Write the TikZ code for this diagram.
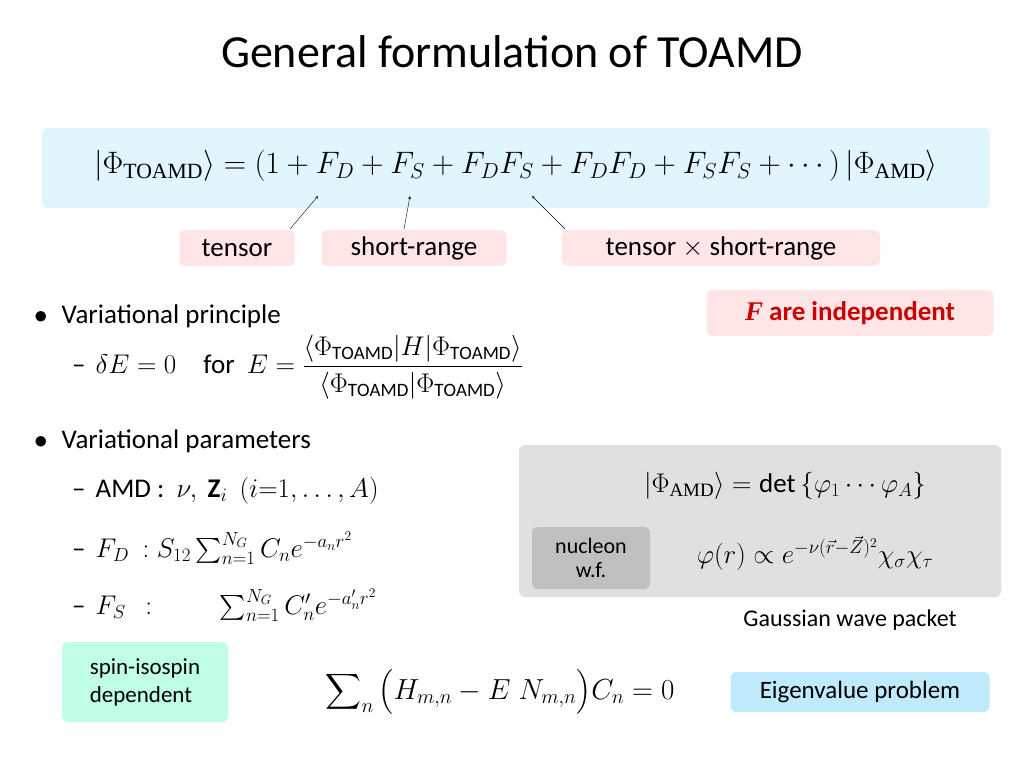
\RequirePackage{fix-cm}
\documentclass[tikz,border=0pt]{standalone}
\usepackage{amsmath}
\usepackage{fontspec}
\setmainfont{Carlito}
\newfontfamily\tnr{Liberation Serif}
\begin{document}
\begin{tikzpicture}[x=1pt,y=-1pt,
  bx/.style={rounded corners=6pt,draw=none},
  lab/.style={bx,fill=red!10,inner sep=0pt,minimum height=36pt,font=\fontsize{27}{30}\selectfont},
  txt/.style={inner sep=0pt,font=\fontsize{27}{30}\selectfont},
  arr/.style={-stealth,thin}]
\useasboundingbox (0,0) rectangle (1024,768);
\node[inner sep=0pt,font=\fontsize{46}{52}\selectfont] (title) at (512,52) {General formulation of TOAMD};
\fill[bx,fill=cyan!12] (42,128) rectangle (990,208);
\node[inner sep=0pt,font=\fontsize{31}{34}\selectfont] (eq) at (516,166) {$\left|\Phi_{\text{\tnr TOAMD}}\right\rangle=(1+F_D+F_S+F_DF_S+F_DF_D+F_SF_S+\cdots)\left|\Phi_{\text{\tnr AMD}}\right\rangle$};
\coordinate (a1) at (318,196); \coordinate (a2) at (410,196); \coordinate (a3) at (532,196);
\node[lab,minimum width=115pt] (t) at (237,248) {tensor};
\node[lab,minimum width=185pt] (s) at (414,248) {short-range};
\node[lab,minimum width=318pt] (ts) at (721,248) {tensor $\times$ short-range};
\draw[arr] (290,229) -- (a1);
\draw[arr] (404,229) -- (a2);
\draw[arr] (565,229) -- (a3);
\node[lab,minimum width=287pt,minimum height=46pt] (fi) at (850,313) {\color{red!80!black}\bfseries\textit{\tnr F} are independent};
\node[txt,anchor=west] (b1) at (34,316) {$\bullet$\hspace{14pt}Variational principle};
\node[txt,anchor=west] (b1a) at (72,367) {--\hspace{10pt}$\delta E=0$\quad for\ \ $E=\dfrac{\langle\Phi_{\mathrm{TOAMD}}|H|\Phi_{\mathrm{TOAMD}}\rangle}{\langle\Phi_{\mathrm{TOAMD}}|\Phi_{\mathrm{TOAMD}}\rangle}$};
\node[txt,anchor=west] (b2) at (34,441) {$\bullet$\hspace{14pt}Variational parameters};
\node[txt,anchor=west] (b2a) at (72,491) {--\hspace{10pt}AMD :\ \ $\nu,\ \mathbf{Z}_i\ \ (i{=}1,\dots,A)$};
\node[txt,anchor=west] (b2b) at (72,548) {--\hspace{10pt}$F_D\ : S_{12}\sum_{n=1}^{N_G}C_ne^{-a_nr^2}$};
\node[txt,anchor=west] (b2c) at (72,605) {--\hspace{10pt}$F_S\ \ :\qquad\ \sum_{n=1}^{N_G}C'_ne^{-a'_nr^2}$};
\fill[bx,fill=black!12] (519,445) rectangle (1001,597);
\node[txt] (amd) at (785,486) {$\left|\Phi_{\text{\tnr AMD}}\right\rangle=\mathrm{det}\left\{\varphi_1\cdots\varphi_A\right\}$};
\node[bx,fill=black!25,minimum width=118pt,minimum height=62pt,align=center,inner sep=0pt,font=\fontsize{22}{24}\selectfont] (nwf) at (591,558) {nucleon\\w.f.};
\node[txt] (phi) at (815,553) {$\varphi(r)\propto e^{-\nu(\vec r-\vec Z)^2}\chi_\sigma\chi_\tau$};
\node[inner sep=0pt,font=\fontsize{24}{28}\selectfont] (gwp) at (850,620) {Gaussian wave packet};
\node[bx,fill=green!40!cyan!25,minimum width=166pt,minimum height=80pt,align=left,inner sep=0pt,font=\fontsize{23}{28}\selectfont] (sid) at (145,682) {spin-isospin\\dependent};
\node[txt,font=\fontsize{29}{32}\selectfont] (eig) at (500,692) {$\displaystyle\sum\nolimits_n\big(H_{m,n}-E\;N_{m,n}\big)C_n=0$};
\node[bx,fill=cyan!25,minimum width=259pt,minimum height=40pt,inner sep=0pt,font=\fontsize{25}{28}\selectfont] (ep) at (860,692) {Eigenvalue problem};
\end{tikzpicture}
\end{document}
